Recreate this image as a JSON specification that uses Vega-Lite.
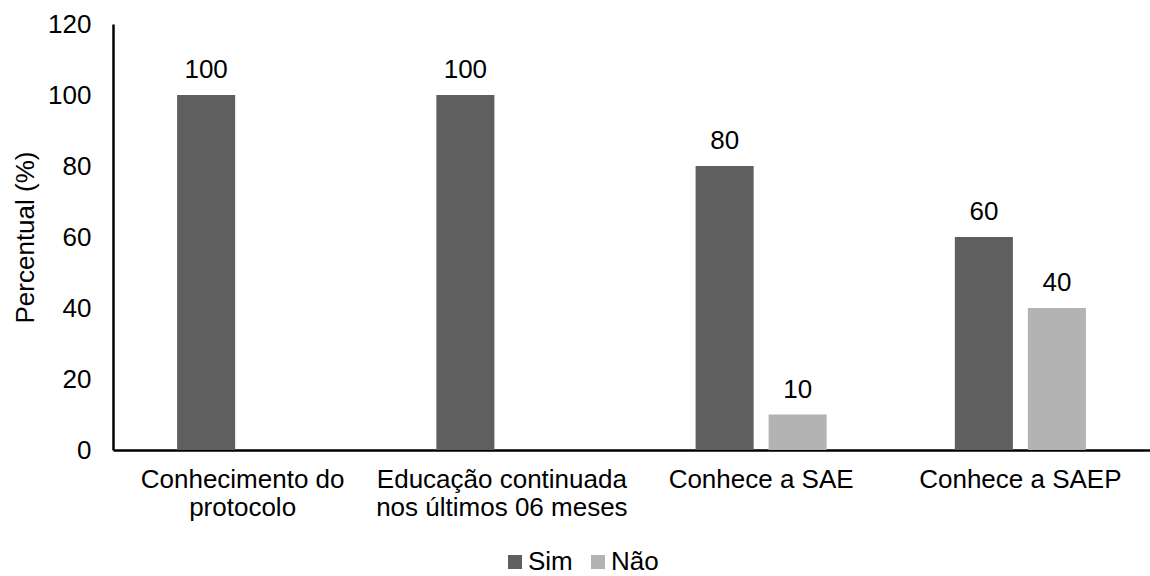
{
  "$schema": "https://vega.github.io/schema/vega-lite/v6.json",
  "width": 1037,
  "height": 426,
  "autosize": {"type": "none"},
  "padding": {"left": 113, "top": 24, "right": 0, "bottom": 126},
  "background": "white",
  "config": {
    "view": {"stroke": null},
    "font": "Liberation Sans",
    "axis": {"labelFont": "Liberation Sans", "titleFont": "Liberation Sans", "labelColor": "black", "titleColor": "black"},
    "legend": {"labelFont": "Liberation Sans"}
  },
  "data": {
    "values": [
      {"categoria": "Conhecimento do protocolo", "resposta": "Sim", "valor": 100},
      {"categoria": "Educação continuada nos últimos 06 meses", "resposta": "Sim", "valor": 100},
      {"categoria": "Conhece a SAE", "resposta": "Sim", "valor": 80},
      {"categoria": "Conhece a SAE", "resposta": "Não", "valor": 10},
      {"categoria": "Conhece a SAEP", "resposta": "Sim", "valor": 60},
      {"categoria": "Conhece a SAEP", "resposta": "Não", "valor": 40}
    ]
  },
  "encoding": {
    "x": {
      "field": "categoria",
      "type": "nominal",
      "sort": ["Conhecimento do protocolo", "Educação continuada nos últimos 06 meses", "Conhece a SAE", "Conhece a SAEP"],
      "scale": {"paddingInner": 0, "paddingOuter": 0},
      "axis": {
        "title": null,
        "labelAngle": 0,
        "labelFontSize": 26,
        "labelLimit": 0,
        "labelPadding": 16,
        "labelLineHeight": 28,
        "labelBaseline": "top",
        "ticks": false,
        "domainColor": "black",
        "domainWidth": 2.5,
        "labelExpr": "datum.label == 'Conhecimento do protocolo' ? ['Conhecimento do', 'protocolo'] : datum.label == 'Educação continuada nos últimos 06 meses' ? ['Educação continuada', 'nos últimos 06 meses'] : datum.label"
      }
    },
    "xOffset": {
      "field": "resposta",
      "type": "nominal",
      "sort": ["Sim", "Não"],
      "scale": {"domain": ["Sim", "Não"], "paddingInner": 0.205, "paddingOuter": 0.878}
    },
    "y": {
      "field": "valor",
      "type": "quantitative",
      "scale": {"domain": [0, 120]},
      "axis": {
        "title": "Percentual (%)",
        "titleFontSize": 26,
        "titleFontWeight": "normal",
        "titlePadding": 9,
        "values": [0, 20, 40, 60, 80, 100, 120],
        "labelFontSize": 26,
        "labelPadding": 22,
        "ticks": false,
        "grid": false,
        "domainColor": "black",
        "domainWidth": 2.5
      }
    }
  },
  "layer": [
    {
      "mark": {"type": "bar"},
      "encoding": {
        "color": {
          "field": "resposta",
          "type": "nominal",
          "sort": ["Sim", "Não"],
          "scale": {"domain": ["Sim", "Não"], "range": ["#5f5f5f", "#b3b3b3"]},
          "legend": {
            "title": null,
            "orient": "none",
            "legendX": 389,
            "legendY": 525,
            "direction": "horizontal",
            "symbolType": "square",
            "symbolSize": 196,
            "symbolStrokeWidth": 0,
            "labelFontSize": 26,
            "labelColor": "black",
            "labelOffset": 0,
            "columnPadding": 12
          }
        }
      }
    },
    {
      "mark": {"type": "text", "baseline": "alphabetic", "dy": -17, "fontSize": 26, "color": "black"},
      "encoding": {"text": {"field": "valor", "type": "quantitative"}}
    }
  ]
}
